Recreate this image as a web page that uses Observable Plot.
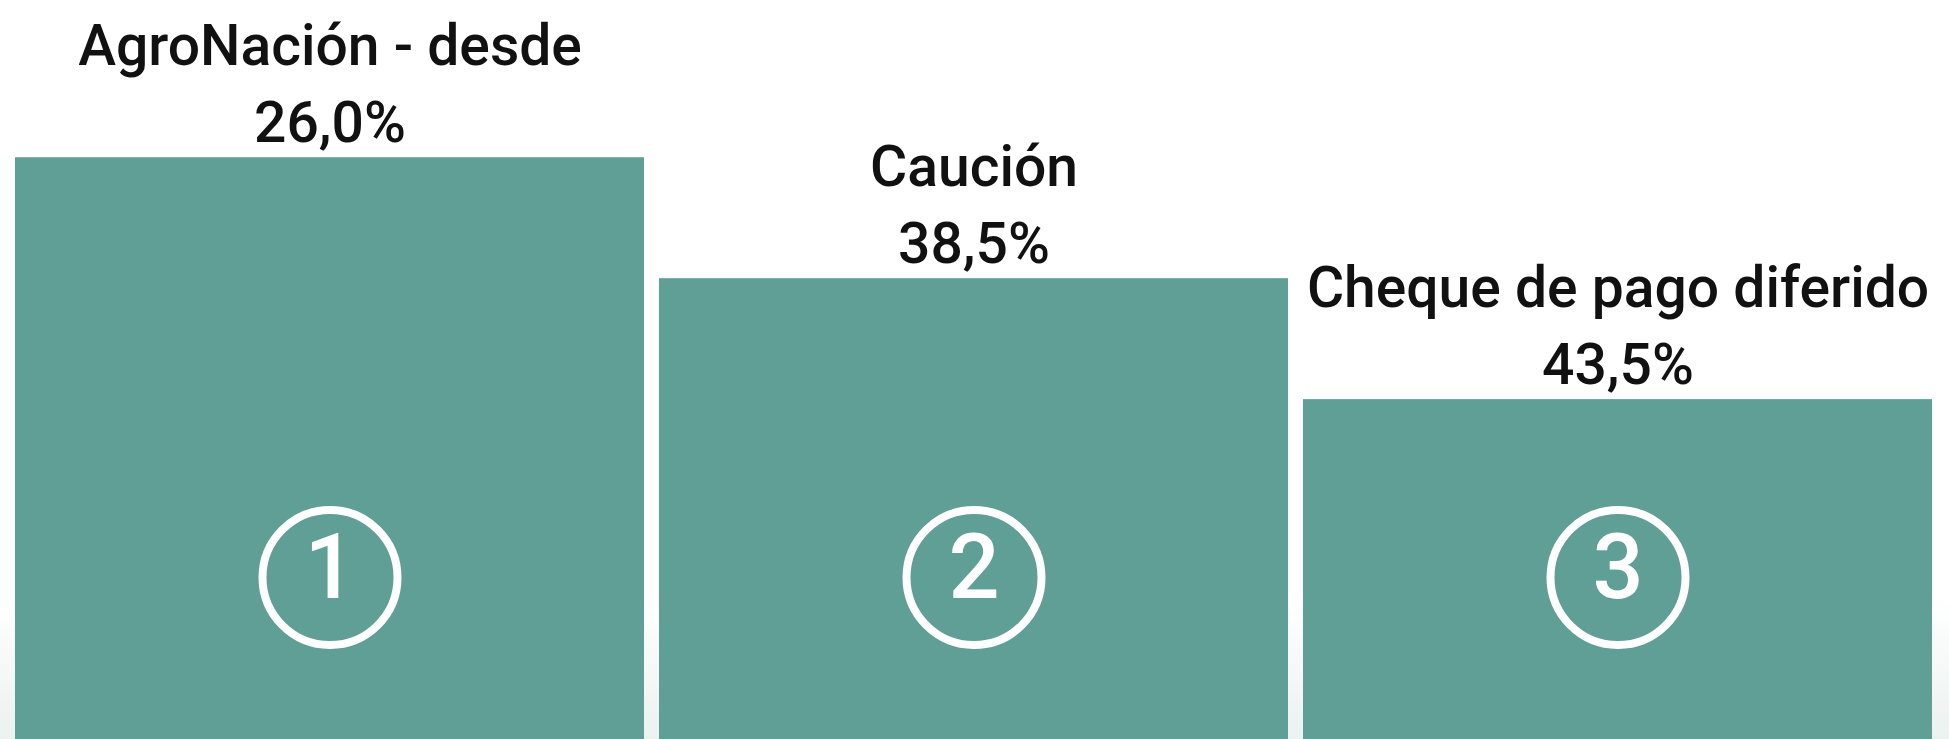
<!DOCTYPE html>
<html>
<head>
<meta charset="utf-8">
<script src="https://cdn.jsdelivr.net/npm/d3@7"></script>
<script src="https://cdn.jsdelivr.net/npm/@observablehq/plot@0.6"></script>
<style>
  html, body { margin: 0; padding: 0; background: #ffffff; }
  #chart svg { display: block; }
</style>
</head>
<body>
<div id="chart"></div>
<script>
// ---- data ----
const categories = ["AgroNación - desde", "Caución", "Cheque de pago diferido"];
const rates = [26.0, 38.5, 43.5];      // tasa (%)
const ranks = [1, 2, 3];               // posición en el ranking

const data = categories.map((name, i) => ({
  name,
  rate: rates[i],
  rank: ranks[i],
  label: name + "\n" + rates[i].toFixed(1).replace(".", ",") + "%"
}));

// ---- scales ----
const yDomain = [-0.3, 5.81]; // top → bottom (reversed ranking scale)

const W = 1949, H = 739;
const FONT = "Roboto, 'Noto Sans', sans-serif";

const background = (index, scales, values, dims) => {
  const g = d3.create("svg:g");
  const grad = g.append("defs").append("linearGradient")
    .attr("id", "bgfade").attr("x1", 0).attr("y1", 0).attr("x2", 0).attr("y2", 1);
  grad.append("stop").attr("offset", "0%").attr("stop-color", "#ffffff");
  grad.append("stop").attr("offset", "100%").attr("stop-color", "#ebf2f0");
  g.append("rect")
    .attr("x", 0).attr("y", dims.height - 140)
    .attr("width", dims.width).attr("height", 140)
    .attr("fill", "url(#bgfade)");
  return g.node();
};

const chart = Plot.plot({
  width: W,
  height: H,
  marginTop: 0,
  marginBottom: 0,
  marginLeft: 14,
  marginRight: 16,
  style: { background: "#ffffff", fontFamily: FONT, overflow: "visible" },
  x: { domain: categories, paddingInner: 0.023, paddingOuter: 0, axis: null },
  y: { domain: yDomain, reverse: true, axis: null },
  marks: [
    background,
    Plot.barY(data, { x: "name", y1: "rank", y2: yDomain[1], fill: "#5f9f96" }),
    Plot.text(data, {
      x: "name", y: "rank", text: "label",
      lineAnchor: "bottom", dy: -16, lineHeight: 1.34,
      fontSize: 57, fontWeight: 500, fill: "#111111", textAnchor: "middle"
    }),
    Plot.dot(data, {
      x: "name", frameAnchor: "bottom", dy: -162,
      r: 67.5, stroke: "#ffffff", strokeWidth: 8, fill: "none"
    }),
    Plot.text(data, {
      x: "name", frameAnchor: "bottom", dy: -170, text: d => String(d.rank),
      lineAnchor: "middle", fontSize: 90, fontWeight: 500, fill: "#ffffff"
    })
  ]
});

document.getElementById("chart").appendChild(chart);
</script>
</body>
</html>
